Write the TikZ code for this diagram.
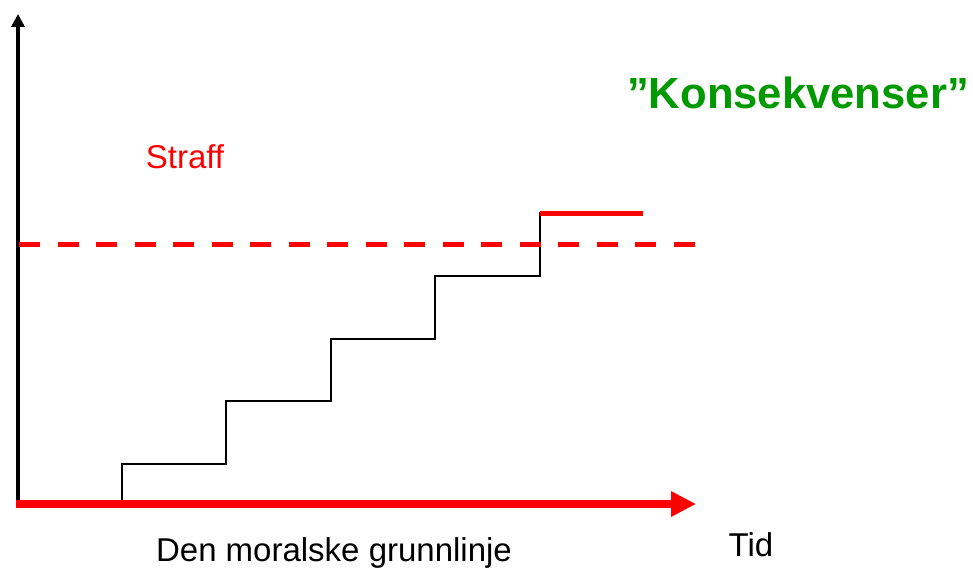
\documentclass[tikz,border=0pt]{standalone}
\usepackage{fontspec}
\setmainfont{Liberation Sans}
\usetikzlibrary{arrows.meta}
\definecolor{kgreen}{RGB}{0,153,0}
\begin{document}
\begin{tikzpicture}[x=1pt,y=-1pt,
  lbl/.style={inner sep=0pt,font=\fontsize{33}{38}\selectfont},
  stair/.style={draw=black,line width=1.3pt},
  redline/.style={draw=red,line width=5pt}]
\useasboundingbox (0,0) rectangle (973,572);
% axes
\coordinate (O) at (18,504);
\coordinate (Ytop) at (18,14);
\coordinate (Xend) at (696,504);
\draw[line width=3.5pt,-{Triangle[length=13pt,width=13pt]}] (18,506) -- (Ytop);
% staircase
\draw[stair] (122,504) -- (122,464) -- (226,464) -- (226,401) -- (331,401) -- (331,339)
  -- (435,339) -- (435,276) -- (540,276) -- (540,212);
% red axis
\draw[draw=red,line width=8pt,-{Triangle[length=25pt,width=24pt]}] (16,504) -- (Xend);
% dashed line
\coordinate (D1) at (19,244);
\coordinate (D2) at (696,244);
\draw[redline,dash pattern=on 21pt off 17.5pt] (D1) -- (D2);
% upper red line
\coordinate (R1) at (540,213);
\coordinate (R2) at (643,213);
\draw[redline] (R1) -- (R2);
% labels
\node[lbl,text=red] (straff) at (185,157) {Straff};
\node[lbl,text=kgreen,font=\fontsize{43.6}{48}\selectfont\bfseries] (kons) at (798,93) {”Konsekvenser”};
\node[lbl] (grunn) at (334,553) {Den moralske grunnlinje};
\node[lbl] (tid) at (751,545) {Tid};
\end{tikzpicture}
\end{document}
